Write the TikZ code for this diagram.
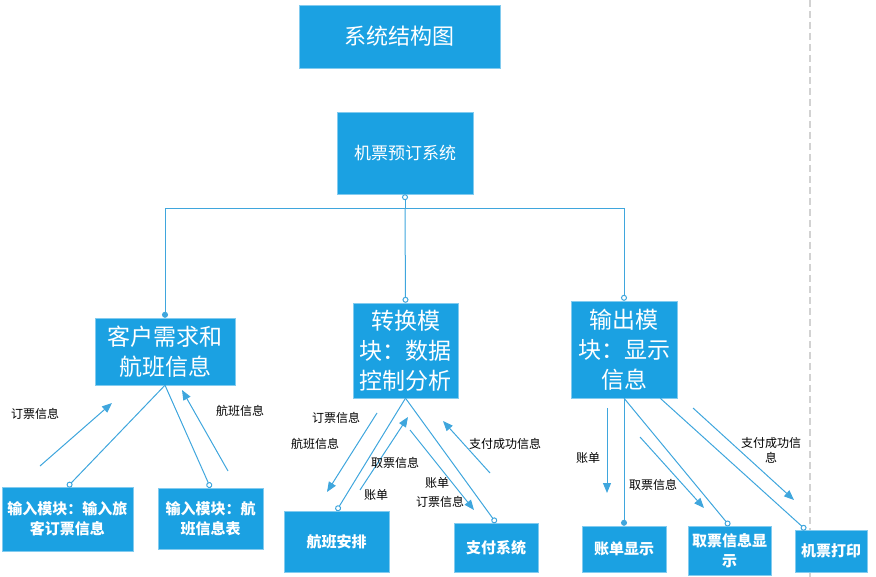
\documentclass[tikz,border=0pt]{standalone}
\usepackage{fontspec}
\setmainfont{Noto Sans CJK SC}
\usepackage{tikz}
\usetikzlibrary{arrows.meta, positioning, calc}
\definecolor{boxblue}{HTML}{1BA1E2}
\definecolor{lineblue}{HTML}{3FA6DD}
\tikzset{
    box/.style={rectangle, draw=boxblue!55!white, fill=boxblue, text=white, align=center, inner sep=0pt},% all boxes share this
    headbox/.style={box, font=\fontsize{23}{30}\selectfont},
    leafbox/.style={box, font=\bfseries\fontsize{15}{20}\selectfont},
    link/.style={draw=lineblue, line width=1pt},
    flow/.style={draw=lineblue, line width=1pt, -{Triangle[length=10pt,width=8pt]}},
    lbl/.style={font=\fontsize{12}{15}\selectfont, align=center, inner sep=1pt},
    oc/.tip={Circle[open, length=6pt, width=6pt]},
    fc/.tip={Circle[length=6pt, width=6pt]},
}

\begin{document}
\begin{tikzpicture}[x=1pt, y=-1pt]
    \useasboundingbox (0,0) rectangle (876,577);
    % dashed page edge
    \draw[gray!35, dash pattern=on 7pt off 4pt, line width=1.3pt] (810,0) -- (810,577);

    % boxes
    \node[box, font=\fontsize{22}{26}\selectfont, minimum width=201pt, minimum height=63pt] (title) at (399.5,36.5) {系统结构图};
    \node[box, font=\fontsize{17}{20}\selectfont, minimum width=136pt, minimum height=82pt] (root) at (405,153) {机票预订系统};
    \node[headbox, minimum width=140pt, minimum height=67pt] (cust) at (165,351.5) {客户需求和\\航班信息};
    \node[headbox, minimum width=105pt, minimum height=95pt] (conv) at (405.5,350.5) {转换模\\块：数据\\控制分析};
    \node[headbox, minimum width=106pt, minimum height=97pt] (outp) at (624,349.5) {输出模\\块：显示\\信息};
    \node[leafbox, minimum width=131pt, minimum height=64pt] (inorder) at (67.5,519) {输入模块：输入旅\\客订票信息};
    \node[leafbox, minimum width=105pt, minimum height=61pt] (inflight) at (210.5,518.5) {输入模块：航\\班信息表};
    \node[leafbox, minimum width=105pt, minimum height=61pt] (plan) at (336.5,541.5) {航班安排};
    \node[leafbox, minimum width=84pt, minimum height=49pt] (pay) at (496,547.5) {支付系统};
    \node[leafbox, minimum width=84pt, minimum height=46pt] (bill) at (624,549) {账单显示};
    \node[leafbox, minimum width=83pt, minimum height=49pt] (ticket) at (729.5,550.5) {取票信息显\\示};
    \node[leafbox, minimum width=72pt, minimum height=42pt] (print) at (831,551) {机票打印};

    % tree links
    \coordinate (split) at (405,209);
    \draw[link, oc-] (root.south) -- (split);
    \draw[link, -oc] (split) -- (conv.north);
    \draw[link, -fc] (split) -| (cust.north);
    \draw[link, -oc] (split) -| (outp.north);
    \draw[link, -oc] (cust.south) -- (inorder.north);
    \draw[link, -oc] (cust.south) -- (inflight.north);
    \draw[link, -oc] (conv.south) -- (plan.north);
    \draw[link, -oc] (conv.south) -- (pay.north);
    \draw[link, -fc] (outp.south) -- (bill.north);
    \draw[link, -oc] (outp.south) -- (ticket.north);
    \draw[link, -oc] ([xshift=-17pt]outp.south east) -- ([xshift=11pt]print.north west);

    % data flows
    \coordinate (f1s) at (40,466);   \coordinate (f1e) at (112,403);
    \coordinate (f2s) at (228,471);  \coordinate (f2e) at (182,390);
    \coordinate (f3s) at (377,413);  \coordinate (f3e) at (327,492);
    \coordinate (f4s) at (360,490);  \coordinate (f4e) at (408,417);
    \coordinate (f5s) at (410,430);  \coordinate (f5e) at (474,510);
    \coordinate (f6s) at (490,473);  \coordinate (f6e) at (443,421);
    \coordinate (f7s) at (607,408);  \coordinate (f7e) at (607,493);
    \coordinate (f8s) at (640,437);  \coordinate (f8e) at (704,508);
    \coordinate (f9s) at (693,408);  \coordinate (f9e) at (794,500);
    \foreach \k in {1,...,9} {
        \draw[flow] (f\k s) -- (f\k e);
    }

    % flow labels
    \node[lbl] (l1) at (35,414) {订票信息};
    \node[lbl] (l2) at (240,411) {航班信息};
    \node[lbl] (l3) at (336,418) {订票信息};
    \node[lbl] (l4) at (315,444) {航班信息};
    \node[lbl] (l5) at (395,463) {取票信息};
    \node[lbl] (l6) at (376,495) {账单};
    \node[lbl] (l7) at (437,483) {账单};
    \node[lbl] (l8) at (440,502) {订票信息};
    \node[lbl] (l9) at (505,444) {支付成功信息};
    \node[lbl] (l10) at (588,458) {账单};
    \node[lbl] (l11) at (653,485) {取票信息};
    \node[lbl] (l12) at (771,450) {支付成功信\\息};
\end{tikzpicture}
\end{document}
